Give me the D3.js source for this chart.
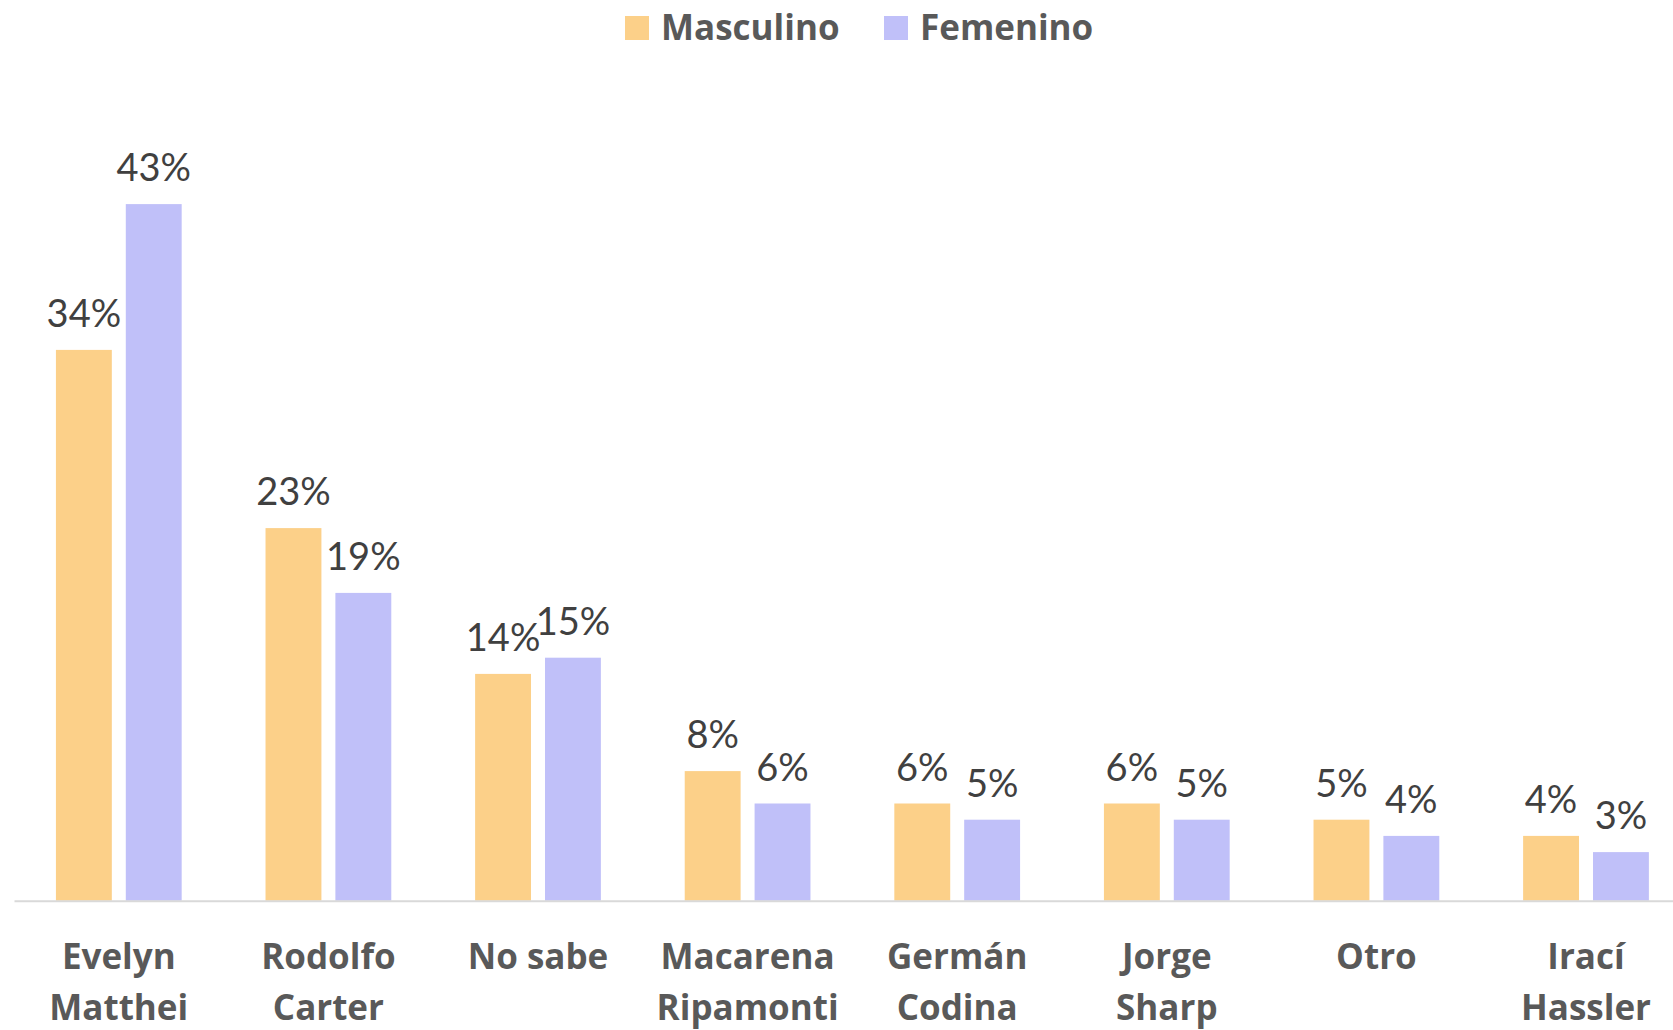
<!DOCTYPE html>
<html>
<head>
<meta charset="utf-8">
<script src="https://cdn.jsdelivr.net/npm/d3@7"></script>
<style>
  html, body { margin: 0; padding: 0; background: #fff; }
  svg { display: block; font-family: Lato, "Open Sans", sans-serif; }
  .bold { font-family: "Open Sans", Lato, sans-serif; font-weight: bold; }
</style>
</head>
<body>
<svg id="chart" width="1673" height="1030"></svg>
<script>
// candidates and values (percent)
const categories = ["Evelyn Matthei", "Rodolfo Carter", "No sabe", "Macarena Ripamonti",
  "Germán Codina", "Jorge Sharp", "Otro", "Irací Hassler"];
const catLines = [["Evelyn", "Matthei"], ["Rodolfo", "Carter"], ["No sabe"], ["Macarena", "Ripamonti"],
  ["Germán", "Codina"], ["Jorge", "Sharp"], ["Otro"], ["Irací", "Hassler"]];
const seriesNames = ["Masculino", "Femenino"];
const masculino = [34, 23, 14, 8, 6, 6, 5, 4];
const femenino = [43, 19, 15, 6, 5, 5, 4, 3];
const colors = ["#FCD089", "#C0C0F9"];

const svg = d3.select("#chart");
const baseY = 900.7;

const x0 = d3.scaleBand().domain(categories).range([14, 1690.8])
  .paddingInner(0.4).paddingOuter(0.2);
const x1 = d3.scaleBand().domain(seriesNames).range([0, x0.bandwidth()]).paddingInner(0.2);
const y = d3.scaleLinear().domain([0, 50]).range([baseY, baseY - 810]);

const rows = categories.map((c, i) => ({ cat: c, values: [masculino[i], femenino[i]] }));

const groups = svg.append("g").selectAll("g")
  .data(rows).join("g")
  .attr("transform", d => `translate(${x0(d.cat)},0)`);

groups.selectAll("rect")
  .data(d => d.values.map((v, j) => ({ s: seriesNames[j], v, j })))
  .join("rect")
  .attr("x", d => x1(d.s))
  .attr("y", d => y(d.v))
  .attr("width", x1.bandwidth())
  .attr("height", d => baseY - y(d.v))
  .attr("fill", d => colors[d.j]);

groups.selectAll("text.lbl")
  .data(d => d.values.map((v, j) => ({ s: seriesNames[j], v, j })))
  .join("text")
  .attr("class", "lbl")
  .attr("x", d => x1(d.s) + x1.bandwidth() / 2)
  .attr("y", d => y(d.v) - 23)
  .attr("text-anchor", "middle")
  .attr("fill", "#404040")
  .style("font-size", "38px")
  .text(d => d.v + "%");

// category axis
const xAxis = d3.axisBottom(x0).tickSize(0).tickFormat("");
const ax = svg.append("g").attr("transform", `translate(0,${baseY})`).call(xAxis);
ax.select(".domain").attr("stroke", "#D9D9D9").attr("stroke-width", 2);

const tick = svg.append("g").selectAll("text")
  .data(categories).join("text")
  .attr("class", "bold")
  .attr("x", d => x0(d) + x0.bandwidth() / 2)
  .attr("y", 969)
  .attr("text-anchor", "middle")
  .attr("fill", "#595959")
  .style("font-size", "35px");
tick.selectAll("tspan")
  .data((d, i) => catLines[i])
  .join("tspan")
  .attr("x", function () { return this.parentNode.getAttribute("x"); })
  .attr("dy", (d, i) => i === 0 ? 0 : 51)
  .text(d => d);

// legend
const legend = svg.append("g");
const legendX = [625, 884];
seriesNames.forEach((s, i) => {
  legend.append("rect")
    .attr("x", legendX[i]).attr("y", 16)
    .attr("width", 24).attr("height", 24)
    .attr("fill", colors[i]);
  legend.append("text")
    .attr("class", "bold")
    .attr("x", legendX[i] + 36).attr("y", 39.5)
    .attr("fill", "#595959")
    .style("font-size", "35px")
    .text(s);
});
</script>
</body>
</html>
